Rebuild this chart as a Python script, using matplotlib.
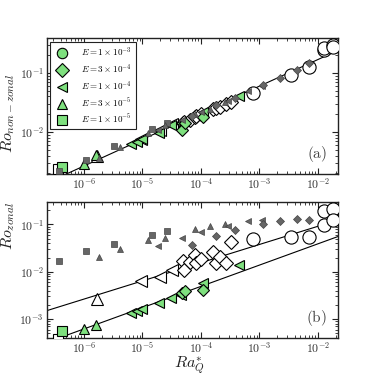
import numpy as np
import matplotlib
matplotlib.use("Agg")
import matplotlib.pyplot as plt
from matplotlib.ticker import LogLocator, FuncFormatter, NullFormatter

plt.rcParams['mathtext.fontset'] = 'cm'
plt.rcParams['font.family'] = ['DejaVu Serif']

# ---------------- data ----------------
# legend entries (Ekman numbers)
E_labels = [r'$E=1\times10^{-3}$', r'$E=3\times10^{-4}$', r'$E=1\times10^{-4}$',
            r'$E=3\times10^{-5}$', r'$E=1\times10^{-5}$']
E_markers = ['o', 'D', '<', '^', 's']

# green (filled) set
g_sq_Ra = [4.2e-7]
g_sq_nz = [2.6e-3]
g_sq_z = [5.6e-4]
g_tri_Ra = [1.0e-6, 1.6e-6]
g_tri_nz = [2.9e-3, 4.1e-3]
g_tri_z = [6.2e-4, 7.4e-4]
g_ltri_Ra = [6.3e-6, 8.1e-6, 9.8e-6, 1.9e-5, 3.1e-5, 4.5e-5, 1.1e-4, 4.4e-4]
g_ltri_nz = [6.3e-3, 6.8e-3, 7.5e-3, 9.8e-3, 1.32e-2, 1.45e-2, 2.2e-2, 4.0e-2]
g_ltri_z = [1.35e-3, 1.45e-3, 1.65e-3, 2.2e-3, 2.75e-3, 3.2e-3, 5.8e-3, 1.37e-2]
g_dia_Ra = [4.7e-5, 5.3e-5, 1.1e-4]
g_dia_nz = [1.1e-2, 1.4e-2, 1.8e-2]
g_dia_z = [3.6e-3, 4.0e-3, 4.1e-3]

# open set
o_sq_Ra = [3.6e-7]
o_sq_nz = [2.4e-3]
o_sq_z = [3.7e-4]
o_tri_Ra = [1.65e-6]
o_tri_nz = [3.9e-3]
o_tri_z = [2.6e-3]
o_ltri_Ra = [9.5e-6, 2.0e-5, 3.2e-5]
o_ltri_nz = [7.6e-3, 1.1e-2, 1.35e-2]
o_ltri_z = [6.4e-3, 7.6e-3, 1.07e-2]
o_dia_Ra = [4.9e-5, 5.2e-5, 6.4e-5, 7.9e-5, 8.2e-5, 1.0e-4, 1.6e-4, 1.8e-4, 2.1e-4, 2.7e-4, 3.2e-4]
o_dia_nz = [0.0145, 0.0150, 0.0162, 0.0178, 0.0185, 0.020, 0.0245, 0.026, 0.027, 0.030, 0.032]
o_dia_z = [1.66e-2, 1.08e-2, 1.6e-2, 2.3e-2, 1.5e-2, 1.9e-2, 2.6e-2, 1.54e-2, 2.1e-2, 1.5e-2, 4.2e-2]
o_circ_Ra = [7.7e-4, 3.4e-3, 7.1e-3, 1.26e-2, 1.26e-2, 1.78e-2, 1.78e-2]
o_circ_nz = [0.045, 0.092, 0.128, 0.245, 0.26, 0.30, 0.27]
o_circ_z = [0.050, 0.054, 0.054, 0.099, 0.197, 0.21, 0.127]

# grey (small filled) set
k_sq_Ra = [3.8e-7, 1.08e-6, 3.2e-6, 1.44e-5, 2.6e-5]
k_sq_nz = [2.2e-3, 3.4e-3, 5.8e-3, 1.15e-2, 1.44e-2]
k_sq_z = [1.7e-2, 2.7e-2, 3.9e-2, 6.1e-2, 7.4e-2]
k_tri_Ra = [1.8e-6, 4.1e-6, 1.26e-5, 2.4e-5, 7.9e-5, 1.4e-4, 2.6e-4]
k_tri_nz = [3.7e-3, 5.5e-3, 9.5e-3, 1.3e-2, 2.0e-2, 2.5e-2, 3.2e-2]
k_tri_z = [2.1e-2, 3.1e-2, 4.75e-2, 5.3e-2, 8.1e-2, 9.5e-2, 0.104]
k_ltri_Ra = [1.86e-5, 4.8e-5, 1.0e-4, 2.9e-4, 6.3e-4, 1.1e-3]
k_ltri_nz = [1.1e-2, 1.6e-2, 2.2e-2, 3.4e-2, 5.0e-2, 6.0e-2]
k_ltri_z = [3.45e-2, 5.1e-2, 6.8e-2, 9.4e-2, 0.117, 0.127]
k_dia_Ra = [6.9e-5, 1.8e-4, 3.8e-4, 1.15e-3, 2.2e-3, 4.3e-3, 7.1e-3]
k_dia_nz = [1.9e-2, 2.9e-2, 3.8e-2, 6.2e-2, 8.3e-2, 0.112, 0.146]
k_dia_z = [3.7e-2, 5.7e-2, 7.5e-2, 0.10, 0.12, 0.13, 0.122]

# power-law fits (prefactor, exponent)
fit_nz = (1.34, 0.45)
fit_z_upper = (0.54, 0.385)
fit_z_lower = (0.31, 0.45)

xlim = (2.3e-7, 2.2e-2)
ylim_top = (1.95e-3, 0.39)
ylim_bot = (3.9e-4, 0.30)

GREEN = '#7ee07e'
GREY = '#666666'

# ---------------- figure ----------------
fig = plt.figure(figsize=(3.76, 3.76), dpi=100)
ax1 = fig.add_axes([0.124, 0.537, 0.775, 0.362])
ax2 = fig.add_axes([0.124, 0.100, 0.775, 0.363])

def fmt(v, pos):
    e = int(np.round(np.log10(v)))
    return r'$10^{%d}$' % e

sets_open = [('s', o_sq_Ra, o_sq_nz, o_sq_z, 7.5), ('^', o_tri_Ra, o_tri_nz, o_tri_z, 8),
             ('<', o_ltri_Ra, o_ltri_nz, o_ltri_z, 8), ('D', o_dia_Ra, o_dia_nz, o_dia_z, 7),
             ('o', o_circ_Ra, o_circ_nz, o_circ_z, 9.5)]
sets_green = [('s', g_sq_Ra, g_sq_nz, g_sq_z, 7), ('^', g_tri_Ra, g_tri_nz, g_tri_z, 7.5),
              ('<', g_ltri_Ra, g_ltri_nz, g_ltri_z, 7.5), ('D', g_dia_Ra, g_dia_nz, g_dia_z, 6.5)]
sets_grey = [('s', k_sq_Ra, k_sq_nz, k_sq_z, 4), ('^', k_tri_Ra, k_tri_nz, k_tri_z, 4.5),
             ('<', k_ltri_Ra, k_ltri_nz, k_ltri_z, 4.5), ('D', k_dia_Ra, k_dia_nz, k_dia_z, 4)]

xx = np.logspace(np.log10(xlim[0]), np.log10(xlim[1]), 50)

for ax, idx in ((ax1, 2), (ax2, 3)):
    for s in sets_open:
        ax.plot(s[1], s[idx], ls='none', marker=s[0], ms=s[4], mfc='white',
                mec='black', mew=0.8, zorder=3)
    for s in sets_green:
        ax.plot(s[1], s[idx], ls='none', marker=s[0], ms=s[4], mfc=GREEN,
                mec='black', mew=0.8, zorder=4)
    for s in sets_grey:
        ax.plot(s[1], s[idx], ls='none', marker=s[0], ms=s[4], mfc=GREY,
                mec='#444444', mew=0.5, zorder=5)
    ax.set_xscale('log')
    ax.set_yscale('log')
    ax.set_xlim(*xlim)
    ax.tick_params(which='both', direction='in', top=True, right=True,
                   labelsize=8.5, colors='#222222', labelcolor='#333333', pad=2)
    ax.tick_params(which='major', length=4.5, width=0.8)
    ax.tick_params(which='minor', length=2.5, width=0.6)
    ax.xaxis.set_major_locator(LogLocator(base=10, numticks=20))
    ax.xaxis.set_minor_locator(LogLocator(base=10, subs=np.arange(2, 10), numticks=20))
    ax.yaxis.set_major_locator(LogLocator(base=10, numticks=20))
    ax.yaxis.set_minor_locator(LogLocator(base=10, subs=np.arange(2, 10), numticks=20))
    ax.xaxis.set_major_formatter(FuncFormatter(fmt))
    ax.yaxis.set_major_formatter(FuncFormatter(fmt))
    ax.xaxis.set_minor_formatter(NullFormatter())
    ax.yaxis.set_minor_formatter(NullFormatter())
    for sp in ax.spines.values():
        sp.set_linewidth(1.0)
        sp.set_color('#222222')

ax1.plot(xx, fit_nz[0] * xx ** fit_nz[1], color='black', lw=0.8, zorder=2)
ax2.plot(xx, fit_z_upper[0] * xx ** fit_z_upper[1], color='black', lw=0.8, zorder=2)
ax2.plot(xx, fit_z_lower[0] * xx ** fit_z_lower[1], color='black', lw=0.8, zorder=2)

ax1.set_ylim(*ylim_top)
ax2.set_ylim(*ylim_bot)

ax1.set_ylabel(r'$Ro_{non-zonal}$', fontsize=11.5, color='#222222')
ax2.set_ylabel(r'$Ro_{zonal}$', fontsize=11.5, color='#222222')
ax1.yaxis.set_label_coords(-0.1, 0.45)
ax2.yaxis.set_label_coords(-0.1, 0.82)
ax2.set_xlabel(r'$Ra_Q^{*}$', fontsize=11.5, color='#222222')
ax2.xaxis.set_label_coords(0.49, -0.12)

ax1.text(0.962, 0.15, r'$\mathrm{(a)}$', transform=ax1.transAxes, ha='right', va='center',
         fontsize=11, color='#444444')
ax2.text(0.962, 0.15, r'$\mathrm{(b)}$', transform=ax2.transAxes, ha='right', va='center',
         fontsize=11, color='#444444')

handles = []
for lab, m in zip(E_labels, E_markers):
    h, = ax1.plot([], [], ls='none', marker=m, ms=7.5, mfc=GREEN, mec='black', mew=0.8)
    handles.append(h)
leg = ax1.legend(handles, E_labels, loc='upper left', fontsize=6.5, frameon=True,
                 fancybox=False, edgecolor='#222222', borderpad=0.45,
                 labelspacing=0.4, handletextpad=1.4, borderaxespad=0.4,
                 handlelength=1.6, framealpha=1)
leg.get_frame().set_linewidth(0.8)

fig.savefig('out.png', dpi=100)
